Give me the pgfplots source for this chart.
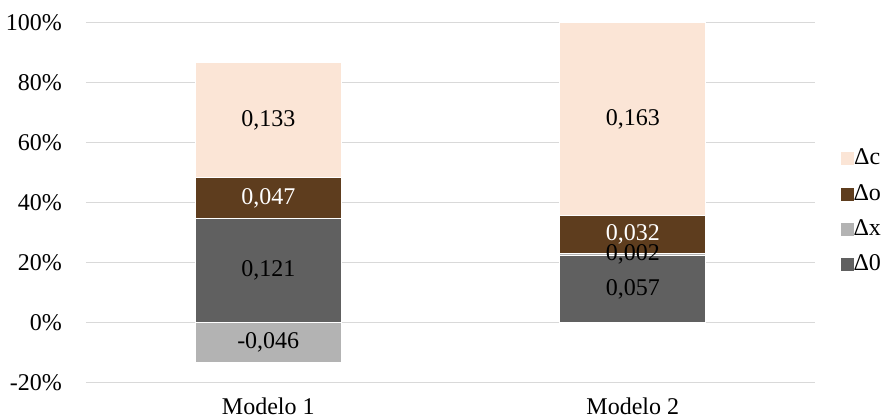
\documentclass[border=0pt]{standalone}
\usepackage{fontspec}
\setmainfont{Liberation Serif}
\usepackage{pgfplots}
\pgfplotsset{compat=1.18}
\definecolor{cC}{HTML}{FBE5D6}
\definecolor{cO}{HTML}{5E3D1E}
\definecolor{cX}{HTML}{B3B3B3}
\definecolor{cZ}{HTML}{606060}
\definecolor{gridc}{HTML}{D9D9D9}
\pgfplotsset{
  common/.style={
    at={(0,0)}, anchor=south west, scale only axis,
    width=729pt, height=360pt,
    xmin=-0.5, xmax=1.5, ymin=-20, ymax=100,
  }
}
\begin{document}
\fontsize{24}{28}\selectfont
\begin{tikzpicture}[x=1pt,y=1pt]
\useasboundingbox (-86,-37.3) rectangle (800,382.7);
\begin{axis}[
  common,
  ybar stacked, bar width=146pt,
  axis line style={draw=none}, major tick length=0pt,
  ytick={-20,0,20,40,60,80,100},
  yticklabels={-20\%,0\%,20\%,40\%,60\%,80\%,100\%},
  yticklabel style={anchor=east, inner sep=0pt, xshift=-24pt, font=\fontsize{24}{28}\selectfont},
  ymajorgrids, grid style={gridc, line width=1.2pt},
  xtick={0,1}, xticklabels={Modelo 1, Modelo 2},
  xticklabel style={anchor=north, inner sep=0pt, yshift=-15pt, font=\fontsize{24}{28}\selectfont},
  legend style={at={(1.035,0.649)}, anchor=north west, draw=none, fill=none,
    inner sep=0pt, outer sep=0pt, row sep=15.8pt,
    font=\fontsize{24}{28}\selectfont,
    nodes={inner sep=0pt},
    /tikz/every even column/.append style={column sep=6.7pt}},
  legend image code/.code={\fill[#1, draw=none] (0pt,-6.5pt) rectangle (13pt,6.5pt);},
  reverse legend,
]
\addplot[fill=cZ, draw=white, line width=0.75pt] coordinates {(0,34.870) (1,22.441)};
\addlegendentry{Δ0}
\addplot[fill=cX, draw=white, line width=0.75pt] coordinates {(0,0) (1,0.787)};
\addlegendentry{Δx}
\addplot[fill=cO, draw=white, line width=0.75pt] coordinates {(0,13.545) (1,12.598)};
\addlegendentry{Δo}
\addplot[fill=cC, draw=white, line width=0.75pt] coordinates {(0,38.329) (1,64.173)};
\addlegendentry{Δc}
\end{axis}
\begin{axis}[
  common, hide axis,
]
\addplot[ybar, bar width=146pt, bar shift=0pt, fill=cX, draw=white, line width=0.75pt] coordinates {(0,-13.256)};
\addplot[only marks, mark=none, point meta=explicit symbolic,
  nodes near coords={\pgfplotspointmeta},
  every node near coord/.append style={anchor=center, inner sep=0pt, text=black, font=\fontsize{24}{28}\selectfont}]
  coordinates {(0,67.5)[0,133] (0,17.4)[0,121] (0,-6.6)[-0,046]
               (1,67.9)[0,163] (1,22.8)[0,002] (1,11.2)[0,057]};
\addplot[only marks, mark=none, point meta=explicit symbolic,
  nodes near coords={\pgfplotspointmeta},
  every node near coord/.append style={anchor=center, inner sep=0pt, text=white, font=\fontsize{24}{28}\selectfont}]
  coordinates {(0,41.6)[0,047] (1,29.5)[0,032]};
\end{axis}
\end{tikzpicture}
\end{document}
